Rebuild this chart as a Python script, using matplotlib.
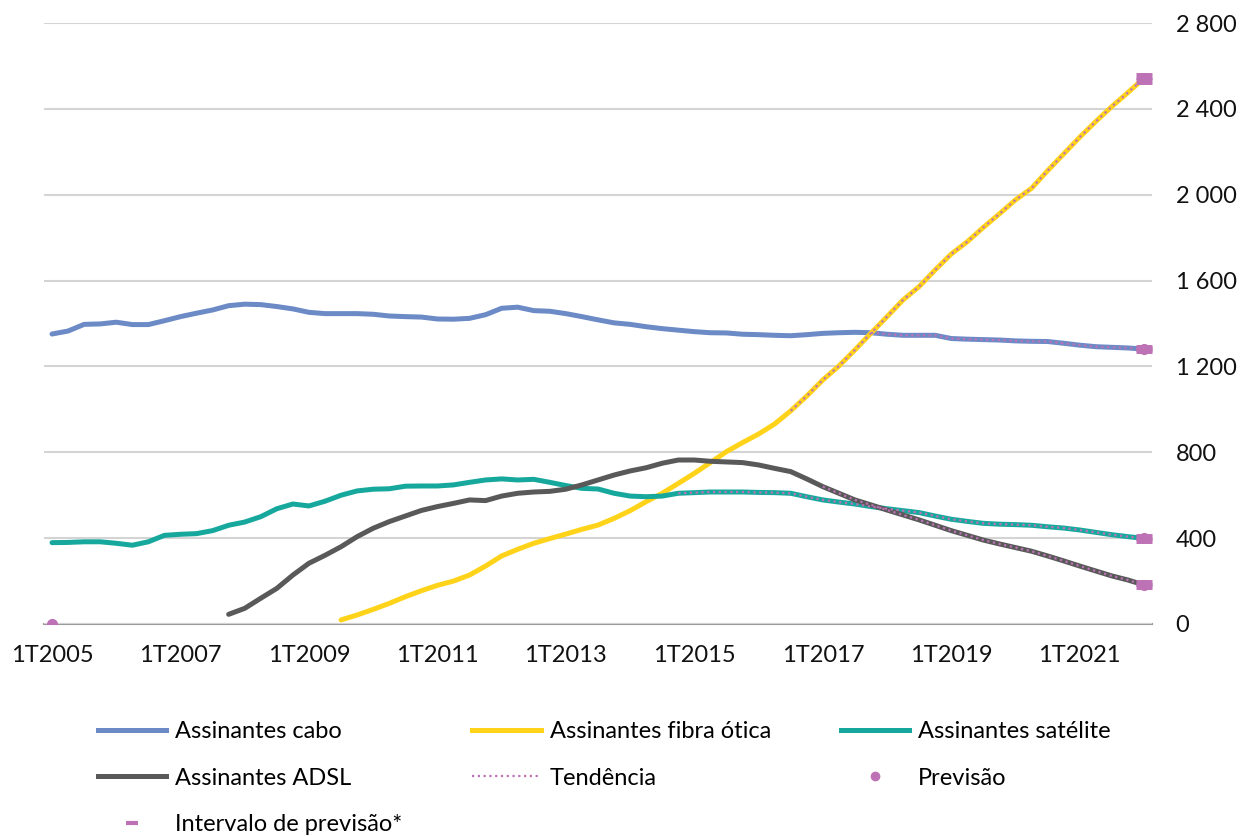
import matplotlib
import numpy as np

matplotlib.use("Agg")  # no display here
import matplotlib.pyplot as plt
from matplotlib.lines import Line2D

plt.rcParams["font.family"] = ["Lato", "DejaVu Sans"]

# quarters 1T2005 .. 1T2022 (69 points)
tick_labels = ["1T2005", "1T2007", "1T2009", "1T2011", "1T2013", "1T2015", "1T2017", "1T2019", "1T2021"]

cabo = [1351, 1365, 1396, 1398, 1406, 1395, 1395, 1413, 1432, 1448, 1463, 1483, 1490, 1488, 1479, 1468,
        1452, 1446, 1446, 1446, 1443, 1435, 1432, 1430, 1421, 1420, 1424, 1441, 1471, 1476, 1460, 1457,
        1446, 1432, 1417, 1403, 1396, 1385, 1376, 1369, 1362, 1357, 1356, 1350, 1348, 1345, 1343, 1348,
        1354, 1357, 1359, 1357, 1350, 1345, 1345, 1345, 1330, 1327, 1325, 1323, 1319, 1317, 1316, 1308,
        1299, 1292, 1289, 1286, 1281]

satelite = [379, 380, 383, 383, 376, 367, 383, 413, 418, 421, 435, 460, 475, 500, 537, 559,
            550, 572, 600, 620, 628, 630, 642, 643, 643, 648, 660, 671, 676, 671, 674, 660,
            645, 632, 629, 609, 596, 593, 596, 609, 612, 615, 615, 615, 613, 612, 609, 593,
            578, 568, 559, 547, 537, 528, 519, 503, 488, 478, 469, 465, 463, 460, 453, 447,
            438, 427, 416, 407, 399]

adsl = [None] * 11 + [45, 73, 120, 166, 228, 283, 320, 360, 407, 446, 477, 503, 529, 547, 562,
                      578, 575, 596, 609, 615, 618, 628, 648, 671, 694, 713, 728, 749, 764, 764,
                      758, 755, 752, 741, 725, 710, 676, 640, 609, 578, 555, 531, 508, 485, 460,
                      435, 413, 391, 373, 356, 339, 317, 294, 270, 247, 224, 205, 182]

fibra = [None] * 18 + [19, 42, 68, 96, 127, 155, 180, 200, 228, 270, 317, 348, 376, 398, 419, 441,
                       461, 492, 528, 570, 609, 655, 702, 752, 803, 845, 885, 932, 993, 1062, 1137,
                       1202, 1277, 1355, 1432, 1510, 1572, 1650, 1724, 1781, 1848, 1911, 1976, 2030,
                       2112, 2190, 2268, 2341, 2411, 2476, 2543]

# quarter index where the trend line begins, per series
trend_start = {"cabo": 51, "fibra": 46, "satelite": 39, "adsl": 48}

# forecast points (index, value) and forecast interval bounds at the last quarter
previsao_idx = [0, 68, 68, 68, 68]
previsao_val = [0, 1281, 2543, 399, 182]
intervalo_lo = [1276, 2532, 392, 175]
intervalo_hi = [1286, 2554, 406, 189]

c_cabo = "#6B8AC6"
c_fibra = "#FFD31A"
c_sat = "#17A89D"
c_adsl = "#595959"
c_pink = "#BE72B6"

series = {
    "cabo": (np.array(cabo, dtype=float), c_cabo),
    "fibra": (np.array(fibra, dtype=float), c_fibra),
    "satelite": (np.array(satelite, dtype=float), c_sat),
    "adsl": (np.array(adsl, dtype=float), c_adsl),
}
x = np.arange(len(cabo))

fig = plt.figure(figsize=(12.49, 8.36), dpi=100)
ax = fig.add_axes([44 / 1249, 1 - 624 / 836, (1152 - 44) / 1249, (624 - 23) / 836])

for key, (vals, col) in series.items():
    ax.plot(x, vals, color=col, lw=3.6, solid_capstyle="round", zorder=3)

for key, (vals, col) in series.items():
    s = trend_start[key]
    ax.plot(x[s:], vals[s:], color=c_pink, lw=1.6, ls=(0, (1, 1.6)), zorder=4)

ax.plot(previsao_idx, previsao_val, ls="none", marker="o", ms=7, color=c_pink, zorder=5)
last = [len(cabo) - 1] * len(intervalo_lo)
ax.plot(last, intervalo_lo, ls="none", marker="_", ms=11, mew=5, color=c_pink, zorder=5)
ax.plot(last, intervalo_hi, ls="none", marker="_", ms=11, mew=5, color=c_pink, zorder=5)

ax.set_xlim(-0.5, len(cabo) - 0.5)
ax.set_ylim(0, 2800)
ax.set_xticks(np.arange(0, len(cabo), 8))
ax.set_xticklabels(tick_labels)
ax.set_yticks(np.arange(0, 2801, 400))
ax.set_yticklabels([f"{v:,}".replace(",", " ") for v in range(0, 2801, 400)])
ax.yaxis.tick_right()
ax.tick_params(axis="y", length=0, pad=17, labelsize=17, colors="#111111")
ax.tick_params(axis="x", length=0, pad=15, labelsize=17, colors="#111111")
ax.grid(axis="y", color="#d4d4d4", lw=1.5, zorder=0)
for sp in ["top", "right", "left"]:
    ax.spines[sp].set_visible(False)
ax.spines["bottom"].set_color("#9a9a9a")
ax.spines["bottom"].set_linewidth(1.5)
ax.spines["bottom"].set_zorder(1)

handles = [
    Line2D([], [], color=c_cabo, lw=3.6),
    Line2D([], [], color=c_adsl, lw=3.6),
    Line2D([], [], color=c_pink, ls="none", marker="_", ms=9, mew=3),
    Line2D([], [], color=c_fibra, lw=3.6),
    Line2D([], [], color=c_pink, lw=1.6, ls=(0, (1, 1.6))),
    Line2D([], [], color=c_sat, lw=3.6),
    Line2D([], [], color=c_pink, ls="none", marker="o", ms=6),
]
labels = ["Assinantes cabo", "Assinantes ADSL", "Intervalo de previsão*",
          "Assinantes fibra ótica", "Tendência", "Assinantes satélite", "Previsão"]
fig.legend(handles, labels, ncol=3, loc="upper left", bbox_to_anchor=(98 / 1249, 1 - 721 / 836),
           frameon=False, fontsize=17, handlelength=2.9, handletextpad=0.38, columnspacing=2.95,
           labelspacing=1.09, borderpad=0, borderaxespad=0)

fig.savefig("out.png", dpi=100)
plt.close(fig)
